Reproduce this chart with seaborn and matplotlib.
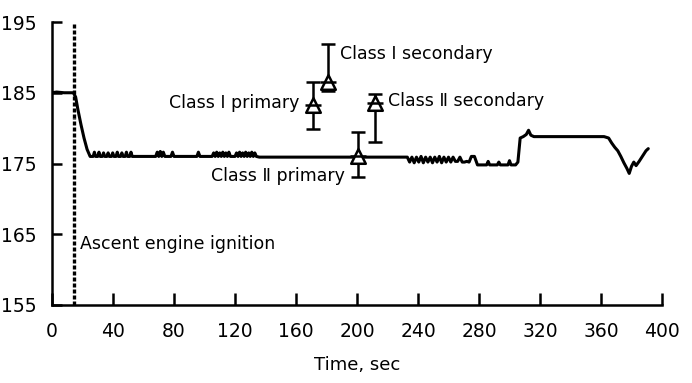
import matplotlib
matplotlib.use("Agg")
import matplotlib.pyplot as plt
import seaborn as sns
import pandas as pd

# chamber pressure trace
time_s = [0, 3, 8, 14, 15.5, 17, 19, 21, 23, 25,
          27, 27.8, 28.6, 30, 30.8, 31.6, 33, 33.8, 34.6, 36, 36.8, 37.6,
          39, 39.8, 40.6, 42, 42.8, 43.6, 45, 45.8, 46.6, 48, 48.8, 49.6,
          51, 51.8, 52.6, 55, 68, 69, 70, 71, 72, 73, 74, 78, 79, 80,
          95, 96, 97, 105, 106, 107, 108, 109, 110, 111, 112, 113, 114,
          115, 116, 117, 120, 121, 122, 123, 124, 125, 126, 127, 128,
          129, 130, 131, 132, 133, 134, 136, 160, 200, 233,
          234.5, 236, 237.5, 239, 240.5, 242, 243.5, 245, 246.5, 248,
          249.5, 251, 252.5, 254, 255.5, 257, 258.5, 260, 261.5, 263,
          264.5, 266, 267.5, 269, 270.5, 272, 273.5, 275, 277, 279,
          285, 286, 287, 292, 293, 294, 299, 300, 301, 304,
          305.5, 307, 309, 311, 312.5, 314, 316, 320, 340, 362, 365,
          367, 369, 371, 373, 375, 377, 378.5, 380, 381.5, 383, 385,
          386.5, 388, 389.5, 391]
pressure = [185.0, 185.1, 185.0, 185.0, 184.4, 182.6, 180.5, 178.6, 177.0, 176.0,
            176.0, 176.6, 176.0, 176.0, 176.6, 176.0, 176.0, 176.5, 176.0, 176.0, 176.5, 176.0,
            176.0, 176.5, 176.0, 176.0, 176.6, 176.0, 176.0, 176.5, 176.0, 176.0, 176.6, 176.0,
            176.0, 176.6, 176.0, 176.0, 176.0, 176.6, 176.0, 176.7, 176.0, 176.6, 176.0, 176.0, 176.6, 176.0,
            176.0, 176.6, 176.0, 176.0, 176.5, 176.0, 176.6, 176.0, 176.5, 176.0, 176.6, 176.0, 176.5,
            176.0, 176.6, 176.0, 176.0, 176.5, 176.0, 176.6, 176.0, 176.5, 176.0, 176.6, 176.0,
            176.5, 176.0, 176.6, 176.0, 176.5, 176.0, 175.9, 175.9, 175.9, 175.9,
            175.2, 175.9, 175.1, 175.9, 175.2, 176.0, 175.1, 175.9, 175.2, 175.9,
            175.1, 175.9, 175.2, 176.0, 175.1, 175.9, 175.2, 175.9, 175.2, 175.9,
            175.3, 175.3, 175.9, 175.2, 175.2, 175.3, 175.2, 176.0, 176.0, 174.8,
            174.8, 175.3, 174.8, 174.8, 175.2, 174.8, 174.8, 175.4, 174.8, 174.8,
            175.2, 178.6, 178.8, 179.1, 179.7, 179.0, 178.8, 178.8, 178.8, 178.8, 178.6,
            177.9, 177.3, 176.8, 176.0, 175.1, 174.3, 173.6, 174.6, 175.2, 174.7, 175.3,
            175.8, 176.3, 176.8, 177.1]

# engine-performance estimates: time, value, lower error, upper error
est_labels = ["Class \u2160 primary", "Class \u2160 secondary",
              "Class \u2161 primary", "Class \u2161 secondary"]
est_time = [171, 181, 200.5, 212]
est_value = [183.2, 186.5, 176.0, 183.5]
est_low = [3.3, 1.2, 2.9, 5.5]
est_high = [3.3, 5.4, 3.4, 1.3]

ignition_time = 14.5

sns.set_theme(style="ticks", rc={"text.color": "black", "axes.labelcolor": "black",
                                 "xtick.color": "black", "ytick.color": "black",
                                 "axes.edgecolor": "black"})
plt.rcParams["font.family"] = ["DejaVu Sans"]

fig = plt.figure(figsize=(6.92, 3.83), dpi=100)
ax = fig.add_axes([52 / 692, 1 - 305 / 383, 610 / 692, 283 / 383])

df = pd.DataFrame({"t": time_s, "p": pressure})
sns.lineplot(data=df, x="t", y="p", ax=ax, color="black", lw=2.2,
             estimator=None, sort=False)

ax.errorbar(est_time, est_value, yerr=[est_low, est_high], fmt="none",
            ecolor="black", elinewidth=1.8, capsize=5, capthick=1.8, zorder=4)
ax.scatter(est_time, est_value, marker="^", s=110, facecolor="white",
           edgecolor="black", linewidths=1.8, zorder=5)
ax.scatter(est_time, est_value, marker="_", s=130, color="black",
           linewidths=1.8, zorder=6)

# ignition marker, broken where the trace drops through it
ax.axvline(ignition_time, ymin=(181.4 - 155) / 40, ymax=1, color="black",
           lw=2.4, linestyle=(0, (1.2, 0.6)), zorder=3)
ax.axvline(ignition_time, ymin=0, ymax=(181.4 - 155) / 40, color="black",
           lw=2.4, linestyle=(0, (1.2, 0.6)), zorder=3)

fs = 12.5
ax.text(162.5, 183.6, est_labels[0], ha="right", va="center", fontsize=fs)
ax.text(189, 190.5, est_labels[1], ha="left", va="center", fontsize=fs)
ax.text(192, 173.3, est_labels[2], ha="right", va="center", fontsize=fs)
ax.text(220.5, 183.8, est_labels[3], ha="left", va="center", fontsize=fs)
ax.text(18.5, 163.6, "Ascent engine ignition", ha="left", va="center", fontsize=fs)

ax.set_xlim(0, 400)
ax.set_ylim(155, 195)
ax.set_xticks(range(0, 401, 40))
ax.set_yticks(range(155, 196, 10))
ax.tick_params(axis="both", direction="in", width=1.8, labelsize=13.5)
ax.tick_params(axis="x", length=8.5, pad=12)
ax.tick_params(axis="y", length=7, pad=11)
ax.set_xlabel("Time, sec", fontsize=13, labelpad=11)
ax.set_ylabel("")
for side in ["top", "right"]:
    ax.spines[side].set_visible(False)
for side in ["left", "bottom"]:
    ax.spines[side].set_linewidth(1.8)

fig.savefig("out.png", dpi=100)
